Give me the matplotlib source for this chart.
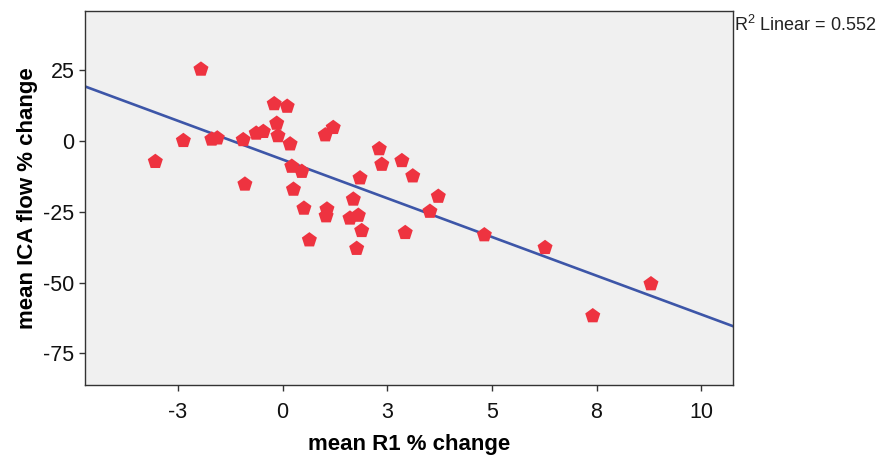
import numpy as np
import matplotlib
matplotlib.use("Agg")
import matplotlib.pyplot as plt

# values
r1_change = [-3.04, -2.37, -1.95, -1.69, -1.56, -0.94, -0.90, -0.63, -0.46, -0.20,
             0.11, -0.14, -0.11, 0.18, 0.22, 0.46, 0.26, 0.51, 0.64, 1.02,
             1.21, 1.06, 1.04, 1.85, 1.69, 1.61, 1.81, 1.89, 1.77, 2.31,
             2.37, 2.85, 3.11, 2.93, 3.72, 3.52, 4.82, 6.27, 7.41, 8.80]
ica_change = [-7.3, 0.1, 25.3, 0.6, 1.0, 0.4, -15.3, 2.7, 3.3, 13.1,
              12.2, 6.2, 1.8, -1.1, -9.0, -10.8, -17.1, -23.8, -35.0, 2.1,
              4.7, -24.1, -26.5, -13.1, -20.6, -27.3, -26.3, -31.7, -38.0, -2.8,
              -8.3, -7.0, -12.4, -32.4, -19.6, -24.9, -33.2, -37.7, -61.8, -50.5]

# SPSS rounds the 2.5-step ticks to whole numbers
xtick_pos = [-2.5, 0, 2.5, 5, 7.5, 10]
xtick_labels = ["-3", "0", "3", "5", "8", "10"]
ytick_pos = [25, 0, -25, -50, -75]
ytick_labels = ["25", "0", "-25", "-50", "-75"]
r2_text = "R$^2$ Linear = 0.552"

plt.rcParams["font.family"] = ["Liberation Sans", "DejaVu Sans"]
plt.rcParams["mathtext.fontset"] = "custom"
plt.rcParams["mathtext.rm"] = "Liberation Sans"

fig = plt.figure(figsize=(8.81, 4.59), dpi=100)
ax = fig.add_axes([85 / 881, 1 - 385 / 459, (733 - 85) / 881, (385 - 10.7) / 459])
ax.set_facecolor("#f0f0f0")

x = np.array(r1_change)
y = np.array(ica_change)
xmin, xmax = -4.72, 10.76
ax.set_xlim(xmin, xmax)
ax.set_ylim(-86.2, 46.0)

# linear fit line across the whole axis
slope, icpt = np.polyfit(x, y, 1)
xl = np.array([xmin, xmax])
ax.plot(xl, icpt + slope * xl, color="#3d56a8", lw=1.9, zorder=2)

ax.scatter(x, y, marker="p", s=130, color="#ee3340", edgecolors="none", zorder=3)

ax.set_xticks(xtick_pos)
ax.set_xticklabels(xtick_labels)
ax.set_yticks(ytick_pos)
ax.set_yticklabels(ytick_labels)
ax.tick_params(axis="both", direction="out", length=4.5, width=1, color="#333333",
               labelsize=15.5, labelcolor="#111111")
ax.tick_params(axis="x", pad=8)
ax.tick_params(axis="y", pad=3)

for sp in ax.spines.values():
    sp.set_color("#333333")
    sp.set_linewidth(1.0)

ax.set_xlabel("mean R1 % change", fontsize=16, fontweight="bold", labelpad=8)
ax.set_ylabel("mean ICA flow % change", fontsize=16, fontweight="bold", labelpad=4)

fig.text(734 / 881, 1 - 25 / 459, r2_text, fontsize=13, va="center", ha="left",
         color="#222222")

fig.savefig("out.png", dpi=100)
